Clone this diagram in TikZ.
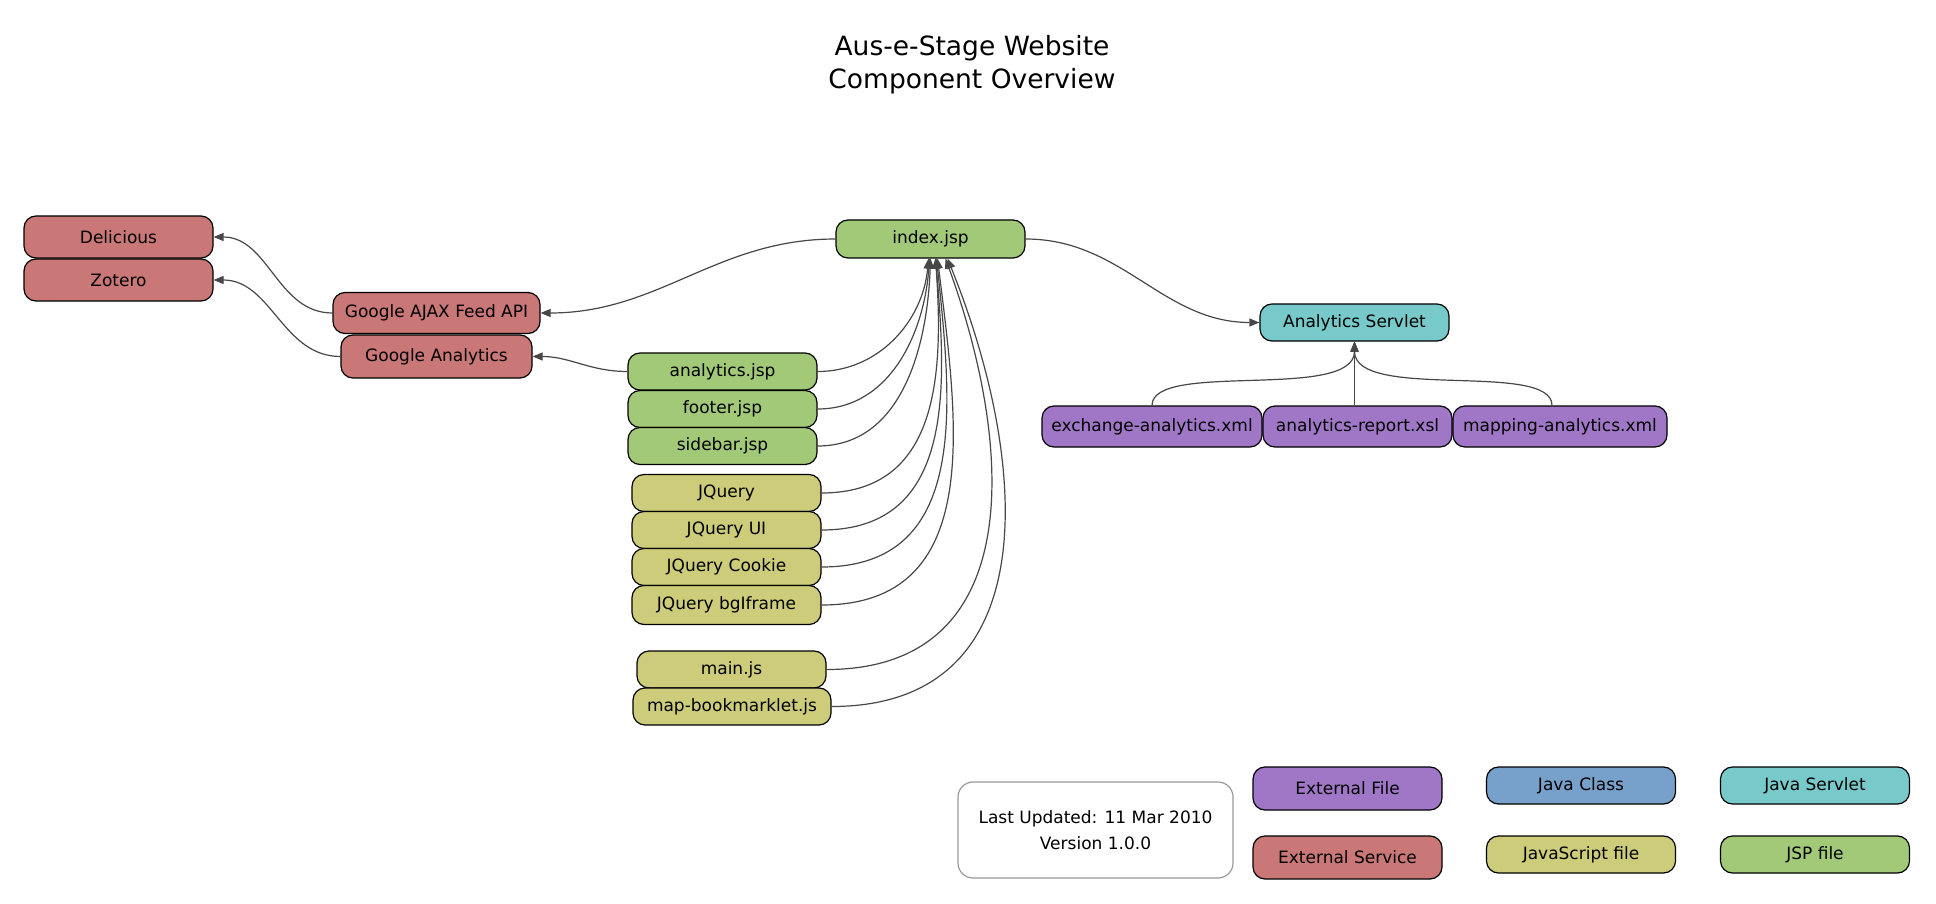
\documentclass[tikz,border=0pt]{standalone}
\usepackage{fontspec}
\setmainfont{DejaVu Sans}
\usetikzlibrary{arrows.meta}
\definecolor{cext}{HTML}{C97777}
\definecolor{cjsp}{HTML}{A2C978}
\definecolor{cjs}{HTML}{CCCC7A}
\definecolor{cfile}{HTML}{A077C7}
\definecolor{cclass}{HTML}{77A0CA}
\definecolor{cservlet}{HTML}{77CAC9}
\definecolor{cedge}{HTML}{474747}
\begin{document}
\begin{tikzpicture}[x=1pt,y=1pt,
  box/.style={draw=black, line width=1.2pt, rounded corners=12pt, minimum width=189pt, minimum height=37pt, inner sep=2pt, font=\fontsize{17}{20}\selectfont, text=black},
  ext/.style={box, fill=cext, minimum height=42pt},
  jsp/.style={box, fill=cjsp},
  js/.style={box, fill=cjs},
  file/.style={box, fill=cfile, minimum height=41pt},
  servlet/.style={box, fill=cservlet},
  cls/.style={box, fill=cclass},
  link/.style={draw=cedge, line width=1.2pt, -{Triangle[length=10pt,width=8pt]}},
]
\useasboundingbox (0,0) rectangle (1936,-904);

\node[font=\fontsize{26.5}{33}\selectfont, align=center] (title) at (972,-65) {Aus-e-Stage Website\\Component Overview};

\node[ext] (del) at (118.5,-237) {Delicious};
\node[ext] (zot) at (118.5,-280) {Zotero};
\node[ext, minimum width=207pt, minimum height=41pt] (ajax) at (436.5,-313) {Google AJAX Feed API};
\node[ext, minimum width=191pt, minimum height=43pt] (ga) at (436.5,-356.5) {Google Analytics};
\node[jsp, minimum height=38pt] (index) at (930.5,-239) {index.jsp};
\node[servlet] (srv) at (1354.5,-322.5) {Analytics Servlet};
\node[file, minimum width=220pt] (exch) at (1152,-426.5) {exchange-analytics.xml};
\node[file] (rep) at (1357.5,-426.5) {analytics-report.xsl};
\node[file, minimum width=214pt] (mapx) at (1560,-426.5) {mapping-analytics.xml};
\node[jsp] (anl) at (722.5,-371.5) {analytics.jsp};
\node[jsp] (foot) at (722.5,-409) {footer.jsp};
\node[jsp] (side) at (722.5,-446) {sidebar.jsp};
\node[js] (jq) at (726.5,-493) {JQuery};
\node[js] (jqui) at (726.5,-530) {JQuery UI};
\node[js] (jqc) at (726.5,-567) {JQuery Cookie};
\node[js, minimum height=39pt] (jqb) at (726.5,-605) {JQuery bgIframe};
\node[js] (mainjs) at (731.5,-669.5) {main.js};
\node[js, minimum width=198pt] (mapbm) at (732,-706.5) {map-bookmarklet.js};

\node[draw=gray!80, line width=1.2pt, fill=white, rounded corners=15pt, minimum width=275pt, minimum height=96pt, align=center, font=\fontsize{17}{26}\selectfont] (upd) at (1095.5,-830) {Last Updated: 11 Mar 2010\\Version 1.0.0};
\node[file, minimum height=43pt] (lf) at (1347.5,-788.5) {External File};
\node[cls] (lc) at (1581,-785.5) {Java Class};
\node[servlet] (ls) at (1815,-785.5) {Java Servlet};
\node[ext, minimum height=43pt] (le) at (1347.5,-857.5) {External Service};
\node[js] (ljs) at (1581,-854.5) {JavaScript file};
\node[jsp] (ljsp) at (1815,-854.5) {JSP file};

\draw[link] (index.west) to[out=180,in=0] (ajax.east);
\draw[link] (anl.west) to[out=180,in=0] (ga.east);
\draw[link] (ajax.west) to[out=180,in=0] (del.east);
\draw[link] (ga.west) to[out=180,in=0] (zot.east);
\draw[link] (index.east) to[out=0,in=180] (srv.west);
\draw[link] (exch.north) .. controls +(0,45) and +(0,-60) .. (srv.south);
\draw[link] (srv.south |- rep.north) -- (srv.south);
\draw[link] ([xshift=-8pt]mapx.north) .. controls +(0,45) and +(0,-60) .. (srv.south);

\draw[link] (anl.east) to[out=0,in=-95] ([xshift=-2pt]index.south);
\draw[link] (foot.east) to[out=0,in=-94] ([xshift=-1pt]index.south);
\draw[link] (side.east) to[out=0,in=-92] (index.south);
\draw[link] (jq.east) to[out=0,in=-86,looseness=1.15] ([xshift=5pt]index.south);
\draw[link] (jqui.east) to[out=0,in=-85,looseness=1.15] ([xshift=5pt]index.south);
\draw[link] (jqc.east) to[out=0,in=-84,looseness=1.15] ([xshift=6pt]index.south);
\draw[link] (jqb.east) to[out=0,in=-83,looseness=1.15] ([xshift=7pt]index.south);
\draw[link] (mainjs.east) to[out=0,in=-70,looseness=1.2] ([xshift=15pt]index.south);
\draw[link] (mapbm.east) to[out=0,in=-68,looseness=1.2] ([xshift=17pt]index.south);
\end{tikzpicture}
\end{document}
